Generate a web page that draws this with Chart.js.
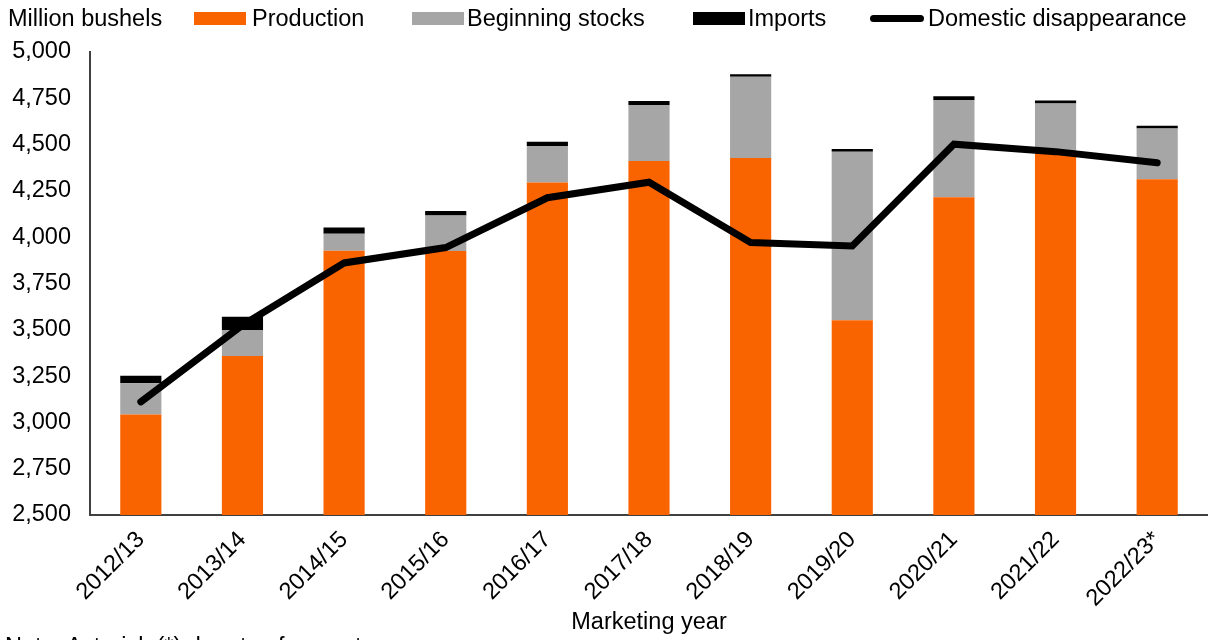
<!DOCTYPE html>
<html>
<head>
<meta charset="utf-8">
<script src="https://cdn.jsdelivr.net/npm/chart.js@4.4.1/dist/chart.umd.min.js"></script>
<style>
  html,body{margin:0;padding:0;background:#fff;overflow:hidden}
  #wrap{position:relative;width:1208px;height:640px;overflow:hidden;font-family:"Liberation Sans",Arial,sans-serif;color:#000}
  #wrap canvas{position:absolute;left:0;top:0}
  .lg{position:absolute;top:4px;font-size:23.5px;line-height:28px;white-space:nowrap}
  .sw{position:absolute;top:12px;height:13px}
  .ln{position:absolute;top:15px;height:7px;border-radius:4px;background:#000}
  .note{position:absolute;left:5px;top:632px;font-size:23.5px;line-height:28px;white-space:nowrap}
</style>
</head>
<body>
<div id="wrap">
  <canvas id="ch" width="1208" height="640"></canvas>
  <div class="lg" style="left:8px">Million bushels</div>
  <div class="sw" style="left:194px;width:52px;background:#F96400"></div>
  <div class="lg" style="left:252px">Production</div>
  <div class="sw" style="left:412px;width:52px;background:#A6A6A6"></div>
  <div class="lg" style="left:467px">Beginning stocks</div>
  <div class="sw" style="left:693px;width:52px;background:#000"></div>
  <div class="lg" style="left:748px">Imports</div>
  <div class="ln" style="left:870px;width:54px"></div>
  <div class="lg" style="left:928px">Domestic disappearance</div>
  <div class="note">Note: Asterisk (*) denotes forecast.</div>
</div>
<script>
// ===== datos (millones de bushels) =====
const years=['2012/13','2013/14','2014/15','2015/16','2016/17','2017/18','2018/19','2019/20','2020/21','2021/22','2022/23*'];
const production=[3042,3358,3927,3926,4296,4412,4428,3552,4216,4465,4313];
const beginningStocks=[169,141,92,191,197,302,438,909,525,257,274];
const imports=[41,72,33,24,22,22,14,15,20,16,15];
const disappearance=[3111,3525,3861,3944,4213,4297,3971,3953,4502,4462,4402];
const yTicks={min:2500,max:5000,step:250};

const FONT='"Liberation Sans", Arial, sans-serif';
const FS=23.5;
const barOpt={stack:'supply',order:1,categoryPercentage:1,barPercentage:0.405,borderWidth:0};

new Chart(document.getElementById('ch'),{
  data:{labels:years,datasets:[
    {type:'bar',label:'Production',data:production,backgroundColor:'#F96400',...barOpt},
    {type:'bar',label:'Beginning stocks',data:beginningStocks,backgroundColor:'#A6A6A6',...barOpt},
    {type:'bar',label:'Imports',data:imports,backgroundColor:'#000000',...barOpt},
    {type:'line',label:'Domestic disappearance',data:disappearance,stack:'use',order:0,
      borderColor:'#000',borderWidth:7,pointRadius:0,borderCapStyle:'round',borderJoinStyle:'miter',tension:0,fill:false}
  ]},
  options:{
    responsive:false,animation:false,
    layout:{padding:{top:52,right:0,left:0,bottom:3}},
    plugins:{legend:{display:false},tooltip:{enabled:false}},
    scales:{
      x:{stacked:true,
        grid:{display:false,drawTicks:false},
        border:{display:true,color:'#404040',width:2},
        ticks:{color:'#000',font:{family:FONT,size:FS},minRotation:45,maxRotation:45,padding:11,autoSkip:false},
        title:{display:true,text:'Marketing year',color:'#000',font:{family:FONT,size:FS},padding:{top:0,bottom:0}},
        afterFit:s=>{s.height=122;}
      },
      y:{stacked:true,min:yTicks.min,max:yTicks.max,
        grid:{display:false,drawTicks:false},
        border:{display:true,color:'#404040',width:2},
        ticks:{stepSize:yTicks.step,color:'#000',font:{family:FONT,size:FS},padding:19,
          callback:v=>v.toLocaleString('en-US')},
        afterFit:s=>{s.width=90;}
      }
    }
  }
});
</script>
</body>
</html>
